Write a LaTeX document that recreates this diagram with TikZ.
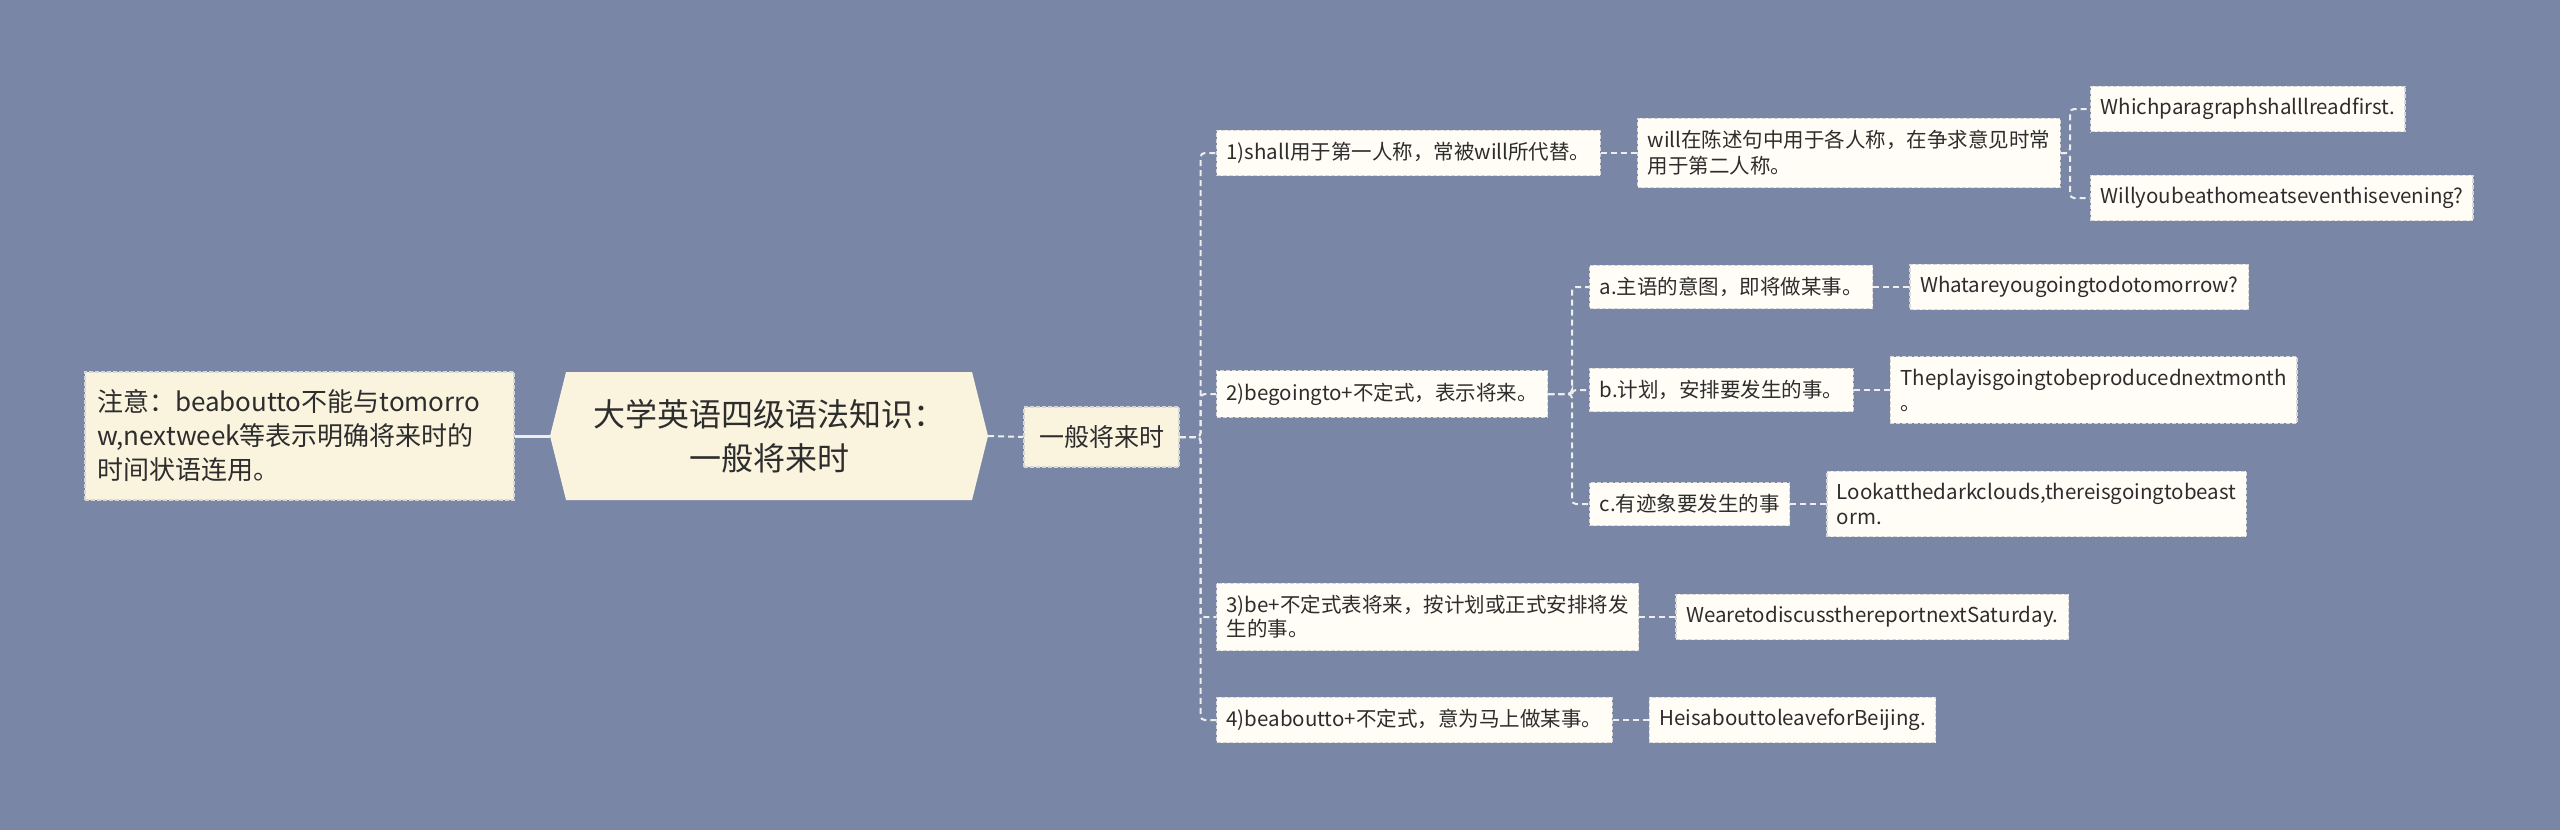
\documentclass[tikz,border=0pt]{standalone}
\usepackage{fontspec}
\setmainfont{Noto Sans CJK SC}
\usetikzlibrary{positioning}

\definecolor{mapbg}{RGB}{121,134,166}
\definecolor{rootcream}{RGB}{250,244,223}
\definecolor{leafcream}{RGB}{255,253,245}
\definecolor{boxline}{RGB}{215,215,215}
\definecolor{linkwhite}{RGB}{238,238,238}
\definecolor{ink}{RGB}{45,45,45}

\tikzset{
  box/.style={draw=boxline, line width=1.2pt, dash pattern=on 4pt off 2pt,
    fill=leafcream, text=ink, inner xsep=10pt, inner ysep=12pt, align=left,
    font=\fontsize{20.5}{25}\selectfont},
  leaf/.style={box, anchor=west},
  bigbox/.style={box, fill=rootcream, font=\fontsize{25}{34}\selectfont},
  rootbox/.style={text=ink, align=center, minimum width=438pt, minimum height=128pt,
    font=\fontsize{32}{44}\selectfont},
  link/.style={draw=linkwhite, line width=2pt, dash pattern=on 6pt off 4pt, rounded corners=4pt},
  solidlink/.style={draw=linkwhite, line width=3pt},
}

\begin{document}
\begin{tikzpicture}[x=1pt, y=-1pt, node distance=36pt]
  \fill[mapbg] (0,0) rectangle (2560,830);
  \useasboundingbox (0,0) rectangle (2560,830);

  % root and note
  \fill[rootcream] (550,436) -- (566,372) -- (972,372) -- (988,436) -- (972,500) -- (566,500) -- cycle;
  \node[rootbox] (root) at (769,436) {大学英语四级语法知识：\\一般将来时};
  \node[bigbox, font=\fontsize{26}{34}\selectfont, text width=405pt, inner xsep=12pt,
    minimum height=128pt] (note) at (299.5,436)
    {注意：beaboutto不能与tomorro\\w,nextweek等表示明确将来时的\\时间状语连用。};
  \node[bigbox, minimum width=155pt, minimum height=60pt, inner ysep=8pt] (hub) at (1101.5,437) {一般将来时};

  % second level
  \node[leaf] (shall) at (1216,153) {1)shall用于第一人称，常被will所代替。};
  \node[leaf] (goingto) at (1216,394) {2)begoingto+不定式，表示将来。};
  \node[leaf, font=\fontsize{20.5}{24}\selectfont] (beto) at (1216,617) {3)be+不定式表将来，按计划或正式安排将发\\生的事。};
  \node[leaf] (about) at (1216,720) {4)beaboutto+不定式，意为马上做某事。};

  % shall branch
  \node[leaf, right=of shall, font=\fontsize{20.5}{26}\selectfont] (willnote) {will在陈述句中用于各人称，在争求意见时常\\用于第二人称。};
  \node[leaf] (whichq) at (2090,109) {Whichparagraphshalllreadfirst.};
  \node[leaf] (willq) at (2090,198) {Willyoubeathomeatseventhisevening?};

  % be going to branch
  \node[leaf] (intent) at (1589,287) {a.主语的意图，即将做某事。};
  \node[leaf] (plan) at (1589,390) {b.计划，安排要发生的事。};
  \node[leaf] (sign) at (1589,504) {c.有迹象要发生的事};
  \node[leaf, right=of intent] (whatq) {Whatareyougoingtodotomorrow?};
  \node[leaf, right=of plan] (playq) {Theplayisgoingtobeproducednextmonth\\。};
  \node[leaf, right=of sign] (lookq) {Lookatthedarkclouds,thereisgoingtobeast\\orm.};

  % be to, be about to
  \node[leaf, right=of beto] (discussq) {WearetodiscussthereportnextSaturday.};
  \node[leaf, right=of about] (leaveq) {HeisabouttoleaveforBeijing.};

  % connectors
  \draw[solidlink] (note.east) -- (root.west);
  \draw[link] (root.east) -- (hub.west);
  \foreach \n in {shall,goingto,beto,about} {
    \draw[link] (hub.east) -- ++(21,0) |- (\n.west);
  }
  \draw[link] (shall.east) -- (willnote.west);
  \foreach \n in {whichq,willq} {
    \draw[link] (willnote.east) -- (2070,153) |- (\n.west);
  }
  \foreach \n in {intent,plan,sign} {
    \draw[link] (goingto.east) -- (1572,394) |- (\n.west);
  }
  \draw[link] (intent.east) -- (whatq.west);
  \draw[link] (plan.east) -- (playq.west);
  \draw[link] (sign.east) -- (lookq.west);
  \draw[link] (beto.east) -- (discussq.west);
  \draw[link] (about.east) -- (leaveq.west);
\end{tikzpicture}
\end{document}
